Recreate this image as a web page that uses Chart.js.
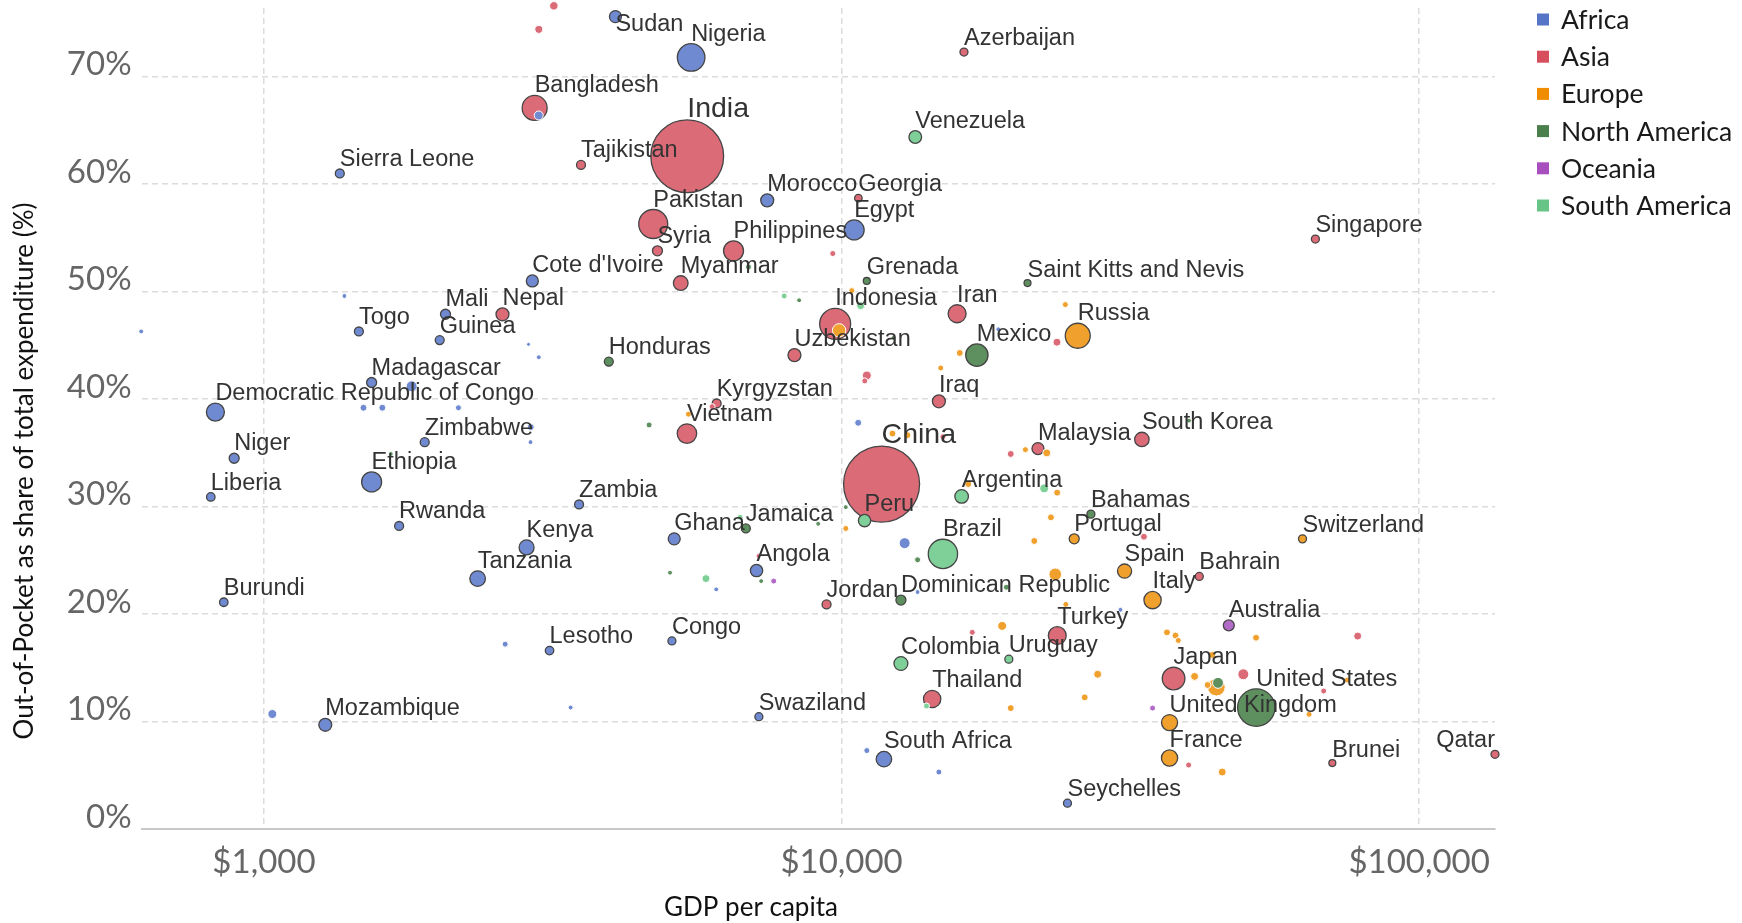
<!DOCTYPE html>
<html lang="en">
<head>
<meta charset="UTF-8" />
<title>Out-of-Pocket share vs GDP per capita</title>
<script src="https://cdn.jsdelivr.net/npm/chart.js"></script>
<style>
  body { margin: 0; background: #fff; }
  #wrap { width: 1742px; height: 923px; position: relative; }
</style>
</head>
<body>
<div id="wrap"><canvas id="chart"></canvas></div>
<script>
// regions, legend order
const regions = ['Africa', 'Asia', 'Europe', 'North America', 'Oceania', 'South America'];
const legendColors = ['#5675c6', '#d74e5c', '#f08c00', '#4b7f4b', '#a64fbd', '#66c487'];
const fillColors = ['#6f8ad0', '#dc6b78', '#f0a02c', '#5e8f5e', '#b36bc8', '#7fcf98'];

// axis ticks
const xTicks = [1000, 10000, 100000];
const yTicks = [0, 10, 20, 30, 40, 50, 60, 70];

// Africa ('' = no label)
const africaNames = ['Sudan', 'Nigeria', '', 'Sierra Leone', 'Morocco', 'Egypt', "Cote d'Ivoire", '', 'Mali', 'Togo',
  '', 'Guinea', '', '', 'Madagascar', '', 'Democratic Republic of Congo', '', '', '',
  '', 'Zimbabwe', '', 'Niger', 'Ethiopia', 'Liberia', 'Zambia', 'Rwanda', 'Kenya', 'Tanzania',
  'Burundi', '', 'Lesotho', '', 'Mozambique', '', 'Ghana', 'Angola', '', 'Congo',
  'Swaziland', '', '', '', '', '', 'South Africa', '', '', 'Seychelles'];
const africaGdp = [4060, 5490, 2990, 1353, 7435, 10515, 2915, 1378, 2062, 1460,
  613, 2015, 2871, 2991, 1536, 1802, 824, 1487, 1603, 2171,
  2897, 1898, 2894, 888, 1536, 809, 3512, 1714, 2849, 2344,
  852, 2616, 3122, 1034, 1277, 3396, 5132, 7125, 6068, 5085,
  7192, 10685, 18680, 12860, 13540, 30400, 11840, 11060, 14740, 24610];
const africaOop = [75.6, 71.8, 66.4, 61.0, 58.5, 55.75, 51.0, 49.6, 47.9, 46.3,
  46.3, 45.5, 45.1, 43.9, 41.55, 41.2, 38.8, 39.2, 39.2, 39.2,
  37.4, 36.0, 36.0, 34.5, 32.3, 30.9, 30.2, 28.2, 26.2, 23.3,
  21.1, 17.2, 16.6, 10.7, 9.7, 11.3, 27.0, 24.05, 22.3, 17.5,
  10.45, 37.8, 46.5, 26.6, 22.05, 20.4, 6.5, 7.3, 5.3, 2.4];
const africaPop = [36, 190, 20, 20, 42, 100, 36, 6, 25, 20,
  6, 20, 4, 6, 25, 30, 81, 12, 12, 9,
  12, 20, 6, 25, 100, 18, 20, 20, 56, 61,
  18, 9, 18, 20, 42, 6, 36, 38, 6, 16,
  16, 12, 6, 30, 6, 6, 60, 9, 9, 16];

// Asia
const asiaNames = ['', '', 'Bangladesh', 'Tajikistan', 'Azerbaijan', 'India', 'Georgia', 'Pakistan', 'Syria', 'Philippines',
  '', 'Myanmar', 'Nepal', 'Indonesia', 'Iran', 'Uzbekistan', '', '', '', 'Kyrgyzstan',
  '', 'Vietnam', 'Iraq', 'China', '', 'Malaysia', '', 'South Korea', '', 'Bahrain',
  '', 'Jordan', 'Turkey', '', 'Thailand', 'Japan', '', '', '', '',
  'Brunei', 'Qatar', 'Singapore'];
const asiaGdp = [3176, 2991, 2942, 3539, 16290, 5405, 10693, 4720, 4800, 6501,
  9656, 5267, 2588, 9748, 15850, 8288, 23600, 11060, 10970, 6078,
  5970, 5399, 14740, 11730, 14980, 21880, 19630, 33110, 33380, 41620,
  7180, 9419, 23630, 16840, 14350, 37570, 49610, 78260, 68340, 39890,
  70740, 135300, 66120];
const asiaOop = [76.6, 74.4, 67.1, 61.8, 72.3, 62.6, 58.7, 56.3, 53.8, 53.8,
  53.55, 50.8, 47.9, 47.0, 47.95, 44.1, 45.3, 42.2, 41.7, 39.6,
  39.3, 36.8, 39.8, 32.1, 36.5, 35.4, 34.9, 36.25, 27.2, 23.5,
  25.4, 20.9, 18.0, 18.3, 12.1, 14.0, 14.4, 17.95, 12.84, 5.95,
  6.14, 6.95, 54.9];
const asiaPop = [18, 16, 156, 20, 16, 1325, 14, 210, 25, 100,
  9, 54, 42, 240, 81, 42, 16, 20, 9, 20,
  9, 95, 42, 1444, 9, 36, 12, 52, 12, 16,
  6, 20, 80, 9, 75, 128, 30, 16, 9, 9,
  12, 16, 16];

// Europe
const europeNames = ['', '', 'Russia', '', '', '', '', '', '', '',
  '', '', '', '', '', 'Portugal', '', 'Spain', '', 'Italy',
  '', 'Switzerland', '', '', '', '', '', '', '', '',
  '', '', '', '', '', '', 'United Kingdom', 'France', ''];
const europeGdp = [10418, 24400, 25640, 9904, 16020, 14850, 5431, 12250, 13000, 20810,
  22660, 16570, 23620, 10170, 23040, 25280, 21560, 30900, 23440, 34550,
  24450, 62810, 18970, 27760, 26360, 19630, 36590, 37860, 38280, 52190,
  43820, 40850, 43030, 44560, 64480, 75100, 36970, 36970, 45610];
const europeOop = [50.1, 48.8, 45.9, 46.4, 44.3, 42.9, 38.6, 36.8, 36.65, 35.3,
  35.0, 32.1, 31.3, 27.97, 29.0, 27.0, 26.8, 24.0, 23.7, 21.3,
  20.9, 27.0, 18.9, 14.4, 12.25, 11.25, 18.3, 18.0, 17.55, 17.8,
  16.2, 14.2, 13.4, 13.2, 10.67, 13.86, 9.9, 6.6, 5.3];
const europePop = [9, 9, 156, 45, 12, 9, 9, 12, 12, 9,
  16, 12, 12, 9, 12, 25, 12, 50, 40, 75,
  9, 16, 20, 16, 12, 12, 12, 12, 9, 12,
  12, 16, 12, 78, 9, 9, 65, 66, 16];

// North America
const northAmericaNames = ['', 'Grenada', 'Saint Kitts and Nevis', '', '', 'Mexico', 'Honduras', '', '', '',
  'Bahamas', '', 'Jamaica', '', '', '', '', 'Dominican Republic', '', '', 'United States'];
const northAmericaGdp = [6900, 11057, 20987, 8444, 12300, 17150, 3954, 4643, 1658, 39940,
  27020, 10170, 6828, 9110, 13540, 5047, 7258, 12670, 19290, 44850, 52240];
const northAmericaOop = [52.3, 51.0, 50.8, 49.2, 45.7, 44.1, 43.5, 37.6, 34.9, 38.0,
  29.3, 29.95, 27.97, 28.4, 25.05, 23.85, 23.07, 21.3, 22.5, 13.6, 11.3];
const northAmericaPop = [9, 12, 12, 6, 6, 125, 20, 9, 6, 6,
  16, 6, 20, 6, 9, 6, 6, 25, 9, 30, 350];

// Oceania
const oceaniaNames = ['', 'Australia', ''];
const oceaniaGdp = [7630, 46820, 34550];
const oceaniaOop = [23.07, 18.95, 11.25];
const oceaniaPop = [9, 30, 9];

// South America
const southAmericaNames = ['Venezuela', '', '', 'Argentina', '', 'Peru', '', 'Brazil', '', 'Colombia', 'Uruguay', ''];
const southAmericaGdp = [13416, 7955, 10790, 16140, 22430, 10960, 6673, 14980, 5824, 12670, 19480, 14030];
const southAmericaOop = [64.4, 49.6, 48.7, 30.95, 31.7, 28.7, 29.0, 25.6, 23.3, 15.4, 15.8, 11.45];
const southAmericaPop = [40, 9, 16, 46, 20, 38, 9, 215, 16, 48, 16, 9];

const regionData = [
  [africaNames, africaGdp, africaOop, africaPop],
  [asiaNames, asiaGdp, asiaOop, asiaPop],
  [europeNames, europeGdp, europeOop, europePop],
  [northAmericaNames, northAmericaGdp, northAmericaOop, northAmericaPop],
  [oceaniaNames, oceaniaGdp, oceaniaOop, oceaniaPop],
  [southAmericaNames, southAmericaGdp, southAmericaOop, southAmericaPop]
];
// which region sits on top when bubbles overlap (lower = on top)
const drawOrder = [3, 6, 5, 4, 1, 2];

function buildPoints(names, gdp, oop, pop) {
  const pts = names.map((n, i) => ({ x: gdp[i], y: oop[i], r: Math.sqrt(pop[i]), name: n }));
  return pts.sort((a, b) => b.r - a.r); // big ones first, small drawn on top
}

const datasets = regions.map((reg, k) => ({
  label: reg,
  data: buildPoints(...regionData[k]),
  backgroundColor: fillColors[k],
  borderColor: ctx => (ctx.raw && ctx.raw.name ? '#454545' : '#ffffff'),
  borderWidth: ctx => (ctx.raw && ctx.raw.name ? 1.3 : 1),
  order: drawOrder[k],
  clip: false
}));

// country labels, drawn over every bubble
const labelPlugin = {
  id: 'countryLabels',
  afterDatasetsDraw(chart) {
    const ctx = chart.ctx;
    const area = chart.chartArea;
    ctx.save();
    ctx.fillStyle = '#333';
    ctx.textBaseline = 'alphabetic';
    chart.data.datasets.forEach((ds, di) => {
      const meta = chart.getDatasetMeta(di);
      meta.data.forEach((el, i) => {
        const p = ds.data[i];
        if (!p.name) return;
        ctx.font = (p.r > 30 ? 28.5 : 23.5) + 'px "Liberation Sans", Arial, sans-serif';
        const rad = el.options.radius;
        const y = Math.max(el.y - rad - 3, area.top + 23);
        const w = ctx.measureText(p.name).width;
        ctx.textAlign = el.x + w > area.right ? 'right' : 'left';
        ctx.fillText(p.name, el.x, y);
      });
    });
    ctx.restore();
  }
};

// legend and axis titles
const decorPlugin = {
  id: 'decor',
  afterDraw(chart) {
    const ctx = chart.ctx;
    ctx.save();
    ctx.font = '26.5px Lato, sans-serif';
    ctx.textAlign = 'left';
    ctx.textBaseline = 'alphabetic';
    regions.forEach((reg, k) => {
      const cy = 19.5 + k * 37.2;
      ctx.fillStyle = legendColors[k];
      ctx.fillRect(1537, cy - 6, 12, 12);
      ctx.fillStyle = '#1a1a1a';
      ctx.fillText(reg, 1561, cy + 9.5);
    });

    ctx.fillStyle = '#111';
    ctx.font = '26px Lato, sans-serif';
    ctx.textAlign = 'center';
    ctx.fillText('GDP per capita', 751, 916);

    ctx.translate(33, 471);
    ctx.rotate(-Math.PI / 2);
    ctx.fillText('Out-of-Pocket as share of total expenditure (%)', 0, 0);
    ctx.restore();
  }
};

const tickFont = { family: 'Lato', size: 33 };
const noPadding = () => ({ left: 0, top: 0, right: 0, bottom: 0 });

new Chart(document.getElementById('chart'), {
  type: 'bubble',
  data: { datasets },
  plugins: [labelPlugin, decorPlugin],
  options: {
    responsive: true,
    maintainAspectRatio: false,
    animation: false,
    events: [],
    layout: { autoPadding: false, padding: { top: 8, right: 247, bottom: 0, left: 0 } },
    plugins: {
      legend: { display: false },
      tooltip: { enabled: false }
    },
    scales: {
      x: {
        type: 'logarithmic',
        min: 614,
        max: 135300,
        afterBuildTicks: s => { s.ticks = xTicks.map(v => ({ value: v })); },
        afterFit: s => { s.height = 94; s.paddingLeft = 0; s.paddingRight = 0; s.getPadding = noPadding; },
        grid: { color: '#dcdcdc', lineWidth: 1.5, drawTicks: false },
        border: { display: true, color: '#c8c8c8', width: 2, dash: [6, 4] },
        ticks: {
          font: tickFont,
          color: '#666',
          padding: 14,
          maxRotation: 0,
          autoSkip: false,
          callback: v => '$' + Number(v).toLocaleString('en-US')
        }
      },
      y: {
        min: 0,
        max: 76.4,
        afterBuildTicks: s => { s.ticks = yTicks.map(v => ({ value: v })); },
        afterFit: s => { s.width = 141.6; s.paddingTop = 0; s.paddingBottom = 0; s.getPadding = noPadding; },
        grid: {
          color: ctx => (ctx.tick && ctx.tick.value === 0 ? 'rgba(0,0,0,0)' : '#dcdcdc'),
          lineWidth: 1.5,
          drawTicks: false
        },
        border: { display: false, dash: [6, 4] },
        ticks: {
          font: tickFont,
          color: '#666',
          padding: 10,
          labelOffset: -12,
          callback: v => v + '%'
        }
      }
    }
  }
});
</script>
</body>
</html>
